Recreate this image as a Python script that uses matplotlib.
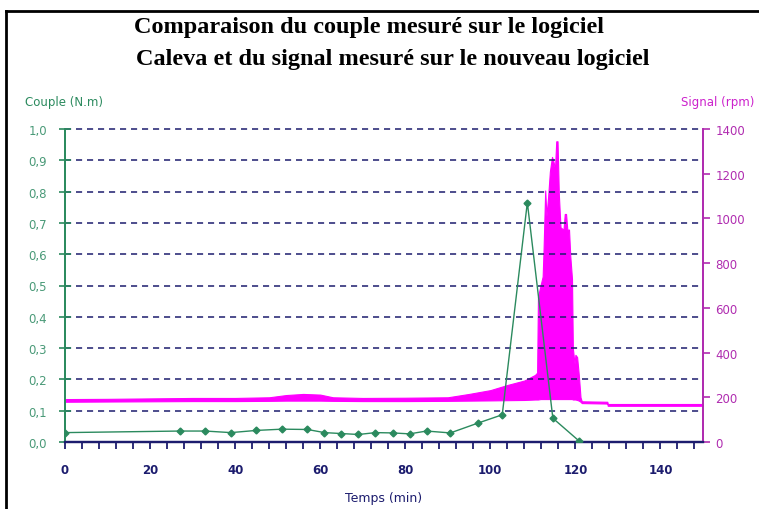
import matplotlib
matplotlib.use('Agg')
import matplotlib.pyplot as plt
from matplotlib.ticker import MultipleLocator, FuncFormatter
from matplotlib.lines import Line2D

# couple measured with Caleva (N.m)
t_couple = [0, 27, 33, 39, 45, 51, 57, 61, 65, 69, 73, 77, 81, 85, 90.6, 97, 102.8, 108.7, 114.7, 120.8]
couple = [0.030, 0.035, 0.035, 0.030, 0.037, 0.041, 0.040, 0.030, 0.027, 0.024, 0.030,
          0.029, 0.026, 0.035, 0.029, 0.060, 0.087, 0.765, 0.076, 0.004]

# signal (rpm) read as upper / lower envelope of the noisy trace
t_sig = [0, 10, 20, 30, 40, 48, 52, 56, 60, 63, 70, 80, 90, 95, 100, 104, 108, 110.5,
         111.0, 111.2, 111.8, 112.3, 112.5, 112.9, 113.2, 113.6, 114.0, 114.5, 114.9, 115.2,
         115.5, 115.8, 116.1, 116.5, 117.2, 117.5, 117.8, 118.1, 118.5, 118.8, 119.2, 119.4,
         119.8, 120.0, 120.4, 120.8, 121.2, 121.5, 127.5, 127.6, 150]
sig_high = [192, 193, 195, 197, 197, 200, 210, 215, 212, 200, 197, 198, 200, 215, 232, 255, 275, 300,
            310, 650, 700, 740, 850, 1125, 1010, 1100, 1210, 1275, 1250, 1220,
            1345, 1345, 1110, 960, 950, 1020, 1020, 950, 950, 830, 730, 420,
            350, 390, 380, 300, 200, 182, 180, 170, 170]
sig_low = [180, 181, 182, 183, 183, 184, 185, 185, 185, 184, 183, 183, 184, 185, 186, 187, 188, 190,
           190, 190, 192, 192, 192, 192, 192, 192, 192, 192, 192, 192,
           192, 192, 192, 192, 192, 192, 192, 192, 192, 192, 192, 190,
           190, 190, 188, 185, 180, 174, 172, 162, 162]

green = '#2b8a5e'
navy = '#1c1c6e'
purple = '#b02cb0'

fig = plt.figure(figsize=(7.59, 5.10), dpi=100)
ax = fig.add_axes([65/759, 67/510, 638/759, 313/510])
ax2 = ax.twinx()

# right axis: signal
ax2.fill_between(t_sig, sig_low, sig_high, color='#ff00ff', linewidth=0.8, edgecolor='#ff00ff')
ax2.set_ylim(0, 1400)
ax2.yaxis.set_major_locator(MultipleLocator(200))
ax2.tick_params(axis='y', colors=purple, direction='out', length=5, width=1.2, pad=4, labelsize=8.5)
for lab in ax2.get_yticklabels():
    lab.set_color(purple)

# left axis: couple, drawn above the signal
ax.set_zorder(ax2.get_zorder() + 1)
ax.patch.set_visible(False)
for yv in [0.1, 0.2, 0.3, 0.4, 0.5, 0.6, 0.7, 0.8, 0.9, 1.0]:
    ax.axhline(yv, color=navy, linewidth=1.1, linestyle=(0, (4, 3.2)), zorder=0, clip_on=False)
ax.plot(t_couple, couple, color=green, linewidth=1.0, marker='D', markersize=3.5,
        markerfacecolor=green, markeredgecolor=green, zorder=3)

ax.set_xlim(0, 150)
ax.set_ylim(0, 1.0)
ax.xaxis.set_major_locator(MultipleLocator(20))
ax.xaxis.set_minor_locator(MultipleLocator(4))
ax.yaxis.set_major_locator(MultipleLocator(0.1))
ax.yaxis.set_major_formatter(FuncFormatter(lambda v, p: ('%.1f' % v).replace('.', ',')))
ax.tick_params(axis='y', colors=green, direction='inout', length=8, width=1.2, pad=9, labelsize=8.5)
ax.tick_params(axis='x', which='both', colors=navy, direction='out', length=5, width=1.3, pad=10)
ax.tick_params(axis='x', labelsize=8.5)
for lab in ax.get_xticklabels():
    lab.set_fontweight('bold')
    lab.set_color(navy)
for lab in ax.get_yticklabels():
    lab.set_color('#4a9a78')

for a in (ax, ax2):
    a.spines['top'].set_visible(False)
    a.spines['left'].set_color(green)
    a.spines['right'].set_color(purple)
    a.spines['bottom'].set_color(navy)
    a.spines['left'].set_linewidth(1.3)
    a.spines['right'].set_linewidth(1.3)
    a.spines['bottom'].set_linewidth(1.6)

ax.set_xlabel('Temps (min)', color=navy, fontsize=9)
ax.xaxis.set_label_coords(0.499, -0.155)

fig.text(25/759, 1 - 103/510, 'Couple (N.m)', color=green, fontsize=8.5, va='center', ha='left')
fig.text(754/759, 1 - 103/510, 'Signal (rpm)', color='#cc22cc', fontsize=8.5, va='center', ha='right')

fig.text(369/759, 1 - 28/510, 'Comparaison du couple mesuré sur le logiciel',
         fontsize=17.5, fontweight='bold', family='Liberation Serif', ha='center', va='center')
fig.text(393/759, 1 - 60/510, 'Caleva et du signal mesuré sur le nouveau logiciel',
         fontsize=17.5, fontweight='bold', family='Liberation Serif', ha='center', va='center')

# outer black frame (left and top edges visible)
fig.add_artist(Line2D([6/759, 6/759], [0, 1 - 12/510], color='black', linewidth=2, transform=fig.transFigure))
fig.add_artist(Line2D([6/759, 1], [1 - 12/510, 1 - 12/510], color='black', linewidth=2, transform=fig.transFigure))

fig.savefig('out.png', dpi=100)
